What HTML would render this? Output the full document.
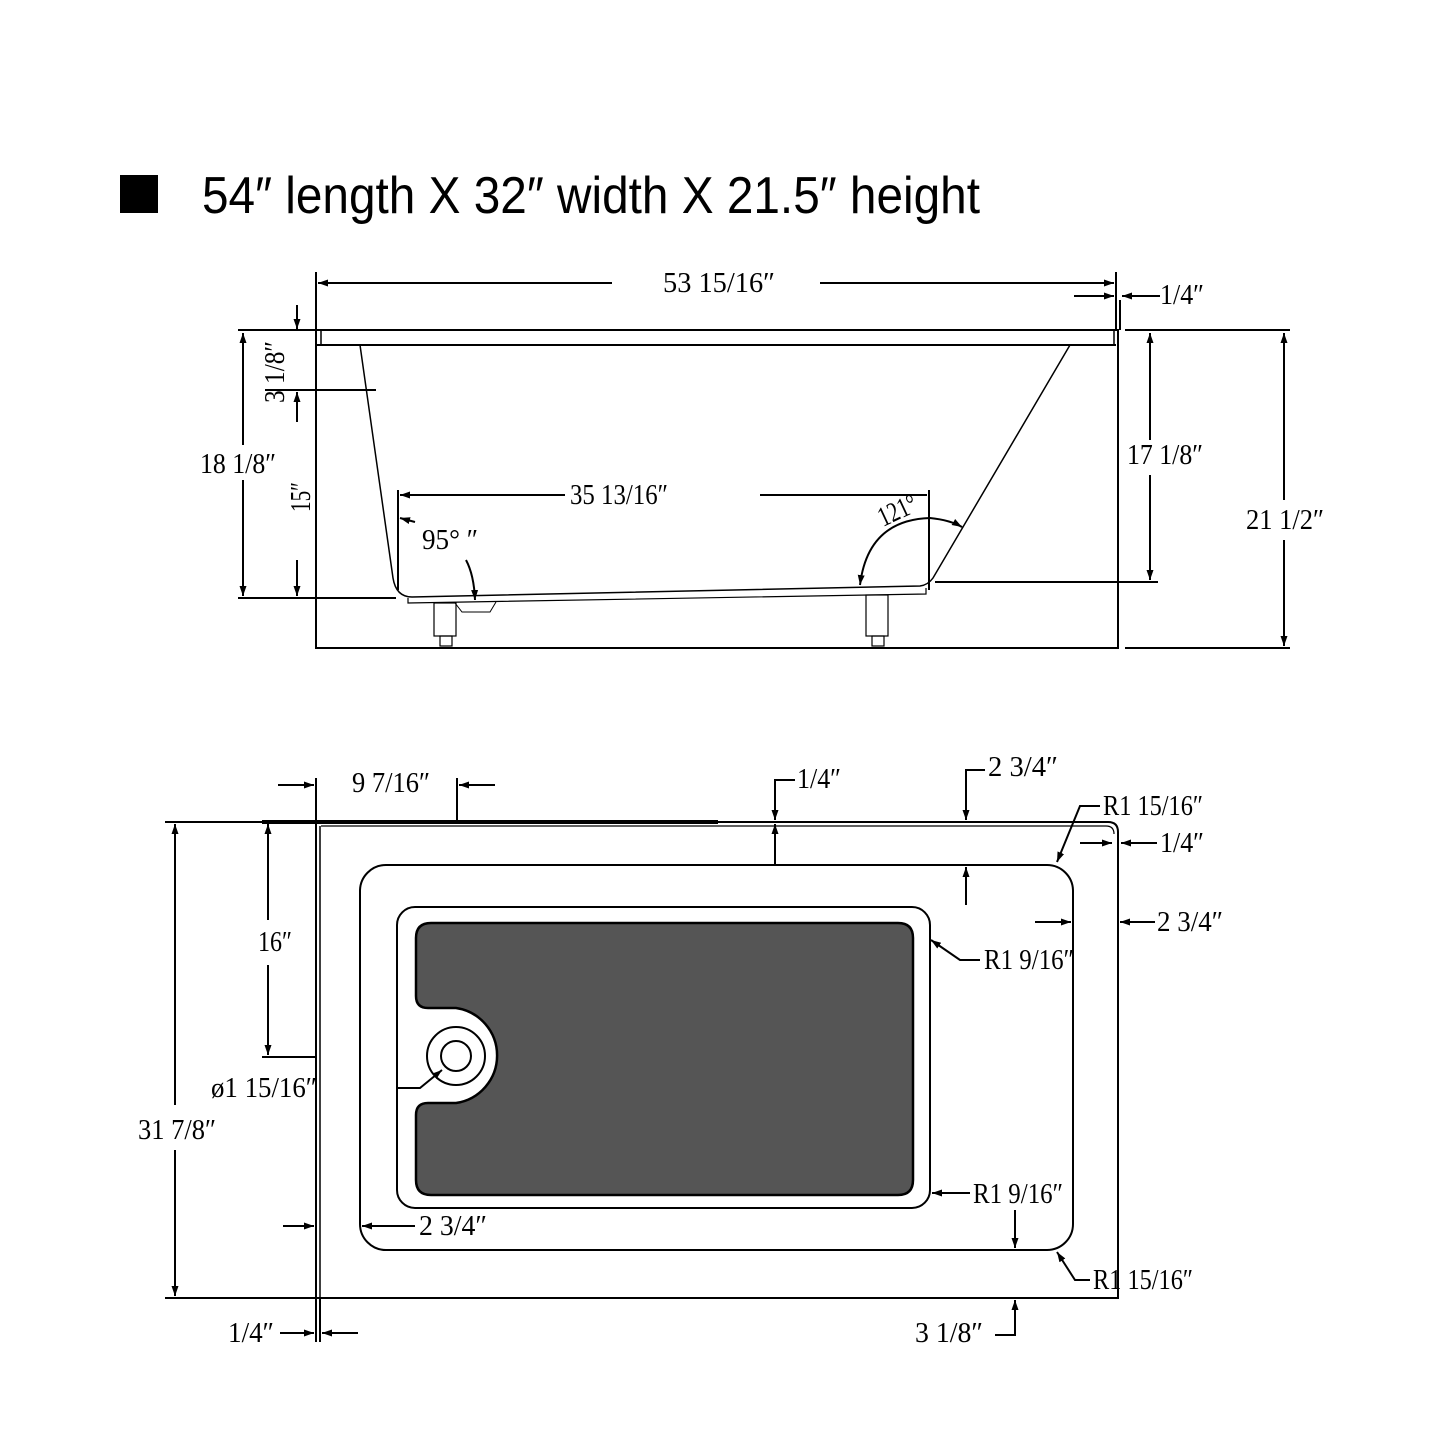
<!DOCTYPE html>
<html><head><meta charset="utf-8"><style>html,body{margin:0;padding:0;background:#fff}svg{display:block}</style></head><body>
<svg width="1445" height="1445" viewBox="0 0 1445 1445" xmlns="http://www.w3.org/2000/svg">
<defs>
<marker id="a" viewBox="0 0 10 10" refX="10" refY="5" markerWidth="10" markerHeight="10" markerUnits="userSpaceOnUse" orient="auto-start-reverse"><path d="M0,1.5L10,5L0,8.5z" fill="#000"/></marker>
</defs>
<rect x="120" y="175" width="38" height="38" fill="#000"/>
<text x="202" y="213" font-family="Liberation Sans, sans-serif" font-size="52" textLength="778" lengthAdjust="spacingAndGlyphs">54″ length X 32″ width X 21.5″ height</text>

<g fill="none" stroke="#000" stroke-width="2">
<rect x="316" y="330" width="802" height="318"/>
<line x1="316" y1="345" x2="1116" y2="345"/>
<line x1="321" y1="330" x2="321" y2="345" stroke-width="1.5"/>
<line x1="1114" y1="330" x2="1114" y2="345" stroke-width="1.5"/>
<path d="M360,345 L393,578 Q396,597 412,597 L920,586 Q928,585 933,578 L1070,345" stroke-width="1.5"/>
<path d="M408,598 L408,603 L926,594 L926,588" stroke-width="1.2"/>
<path d="M455,603 L462,612 L490,612 L496,602" stroke-width="1"/>
<rect x="434" y="603" width="22" height="33" stroke-width="1.2"/>
<rect x="440" y="636" width="12" height="10" stroke-width="1.2"/>
<rect x="866" y="595" width="22" height="41" stroke-width="1.2"/>
<rect x="872" y="636" width="12" height="10" stroke-width="1.2"/>
<line x1="316" y1="272" x2="316" y2="330"/>
<line x1="1116" y1="272" x2="1116" y2="330"/>
<line x1="1120" y1="300" x2="1120" y2="330"/>
<line x1="612" y1="283" x2="318" y2="283" marker-end="url(#a)"/>
<line x1="820" y1="283" x2="1114" y2="283" marker-end="url(#a)"/>
<line x1="1074" y1="296" x2="1114" y2="296" marker-end="url(#a)"/>
<line x1="1160" y1="296" x2="1122" y2="296" marker-end="url(#a)"/>
<line x1="238" y1="330" x2="316" y2="330"/>
<line x1="238" y1="598" x2="396" y2="598"/>
<line x1="243" y1="445" x2="243" y2="333" marker-end="url(#a)"/>
<line x1="243" y1="480" x2="243" y2="596" marker-end="url(#a)"/>
<line x1="297" y1="305" x2="297" y2="329" marker-end="url(#a)"/>
<line x1="265" y1="390" x2="376" y2="390"/>
<line x1="297" y1="422" x2="297" y2="392" marker-end="url(#a)"/>
<line x1="297" y1="560" x2="297" y2="596" marker-end="url(#a)"/>
<line x1="935" y1="582" x2="1158" y2="582"/>
<line x1="1150" y1="440" x2="1150" y2="333" marker-end="url(#a)"/>
<line x1="1150" y1="475" x2="1150" y2="580" marker-end="url(#a)"/>
<line x1="1125" y1="330" x2="1290" y2="330"/>
<line x1="1125" y1="648" x2="1290" y2="648"/>
<line x1="1284" y1="500" x2="1284" y2="333" marker-end="url(#a)"/>
<line x1="1284" y1="540" x2="1284" y2="646" marker-end="url(#a)"/>
<line x1="398" y1="490" x2="398" y2="590"/>
<line x1="929" y1="490" x2="929" y2="590"/>
<line x1="565" y1="495" x2="400" y2="495" marker-end="url(#a)"/>
<line x1="760" y1="495" x2="927" y2="495"/>
<line x1="415" y1="522" x2="400" y2="518" marker-end="url(#a)"/>
<path d="M466,560 Q474,575 475,600" marker-end="url(#a)"/>
<path d="M860,585 Q868,520 930,518 Q950,520 962,527" marker-end="url(#a)" marker-start="url(#a)"/>

<path d="M316,822 L1108,822 Q1118,822 1118,832 L1118,1298 L316,1298 Z"/>
<path d="M321,826 L1106,826 Q1114,826 1114,834" stroke-width="1.2"/>
<line x1="320" y1="826" x2="320" y2="1298" stroke-width="1.5"/>
<line x1="262" y1="822" x2="718" y2="822" stroke-width="4"/>
<rect x="360" y="865" width="713" height="385" rx="26"/>
<rect x="397" y="907" width="533" height="301" rx="18"/>
<path d="M431,923 L898,923 Q913,923 913,938 L913,1180 Q913,1195 898,1195 L431,1195 Q416,1195 416,1180 L416,1115 Q416,1103 428,1103 L456,1103 A48,48 0 0 0 456,1008 L428,1008 Q416,1008 416,996 L416,938 Q416,923 431,923 Z" fill="#555" stroke-width="2.5"/>
<circle cx="456" cy="1056" r="29" fill="#fff"/>
<circle cx="456" cy="1056" r="15" fill="#fff"/>
<line x1="316" y1="778" x2="316" y2="822"/>
<line x1="457" y1="778" x2="457" y2="822"/>
<line x1="278" y1="785" x2="314" y2="785" marker-end="url(#a)"/>
<line x1="495" y1="785" x2="459" y2="785" marker-end="url(#a)"/>
<path d="M795,780 L775,780 L775,820" marker-end="url(#a)"/>
<line x1="775" y1="865" x2="775" y2="824" marker-end="url(#a)"/>
<path d="M985,770 L966,770 L966,820" marker-end="url(#a)"/>
<line x1="966" y1="905" x2="966" y2="867" marker-end="url(#a)"/>
<path d="M1100,806 L1080,806 L1057,862" marker-end="url(#a)"/>
<line x1="1080" y1="843" x2="1112" y2="843" marker-end="url(#a)"/>
<line x1="1157" y1="843" x2="1121" y2="843" marker-end="url(#a)"/>
<line x1="1035" y1="922" x2="1071" y2="922" marker-end="url(#a)"/>
<line x1="1155" y1="922" x2="1120" y2="922" marker-end="url(#a)"/>
<path d="M980,960 L960,960 L931,940" marker-end="url(#a)"/>
<line x1="262" y1="1057" x2="316" y2="1057"/>
<line x1="268" y1="920" x2="268" y2="824" marker-end="url(#a)"/>
<line x1="268" y1="965" x2="268" y2="1055" marker-end="url(#a)"/>
<path d="M398,1088 L420,1088 L442,1070" marker-end="url(#a)"/>
<line x1="165" y1="822" x2="316" y2="822"/>
<line x1="165" y1="1298" x2="316" y2="1298"/>
<line x1="175" y1="1105" x2="175" y2="824" marker-end="url(#a)"/>
<line x1="175" y1="1150" x2="175" y2="1296" marker-end="url(#a)"/>
<line x1="283" y1="1226" x2="314" y2="1226" marker-end="url(#a)"/>
<line x1="415" y1="1226" x2="362" y2="1226" marker-end="url(#a)"/>
<line x1="970" y1="1193" x2="932" y2="1193" marker-end="url(#a)"/>
<line x1="1015" y1="1210" x2="1015" y2="1248" marker-end="url(#a)"/>
<path d="M995,1335 L1015,1335 L1015,1300" marker-end="url(#a)"/>
<path d="M1090,1280 L1075,1280 L1057,1252" marker-end="url(#a)"/>
<line x1="316" y1="1298" x2="316" y2="1342"/>
<line x1="320" y1="1298" x2="320" y2="1342"/>
<line x1="280" y1="1333" x2="314" y2="1333" marker-end="url(#a)"/>
<line x1="358" y1="1333" x2="322" y2="1333" marker-end="url(#a)"/>
</g>

<g font-family="Liberation Serif, serif" font-size="28" fill="#000">
<text x="663" y="292" textLength="112" lengthAdjust="spacingAndGlyphs">53 15/16″</text>
<text x="1160" y="304" textLength="44" lengthAdjust="spacingAndGlyphs">1/4″</text>
<text x="200" y="473" textLength="76" lengthAdjust="spacingAndGlyphs">18 1/8″</text>
<text transform="translate(284,403) rotate(-90)" textLength="62" lengthAdjust="spacingAndGlyphs">3 1/8″</text>
<text transform="translate(310,512) rotate(-90)" textLength="30" lengthAdjust="spacingAndGlyphs">15″</text>
<text x="1127" y="464" textLength="76" lengthAdjust="spacingAndGlyphs">17 1/8″</text>
<text x="1246" y="529" textLength="78" lengthAdjust="spacingAndGlyphs">21 1/2″</text>
<text x="570" y="504" textLength="98" lengthAdjust="spacingAndGlyphs">35 13/16″</text>
<text x="422" y="549" textLength="56" lengthAdjust="spacingAndGlyphs">95°  ″</text>
<text transform="translate(883,527) rotate(-25)" textLength="40" lengthAdjust="spacingAndGlyphs">121°</text>

<text x="352" y="792" textLength="78" lengthAdjust="spacingAndGlyphs">9 7/16″</text>
<text x="797" y="788" textLength="44" lengthAdjust="spacingAndGlyphs">1/4″</text>
<text x="988" y="776" textLength="70" lengthAdjust="spacingAndGlyphs">2 3/4″</text>
<text x="1103" y="815" textLength="100" lengthAdjust="spacingAndGlyphs">R1 15/16″</text>
<text x="1160" y="852" textLength="44" lengthAdjust="spacingAndGlyphs">1/4″</text>
<text x="1157" y="931" textLength="66" lengthAdjust="spacingAndGlyphs">2 3/4″</text>
<text x="984" y="969" textLength="90" lengthAdjust="spacingAndGlyphs">R1 9/16″</text>
<text x="258" y="951" textLength="34" lengthAdjust="spacingAndGlyphs">16″</text>
<text x="211" y="1097" textLength="106" lengthAdjust="spacingAndGlyphs">ø1 15/16″</text>
<text x="138" y="1139" textLength="78" lengthAdjust="spacingAndGlyphs">31 7/8″</text>
<text x="419" y="1235" textLength="68" lengthAdjust="spacingAndGlyphs">2 3/4″</text>
<text x="973" y="1203" textLength="90" lengthAdjust="spacingAndGlyphs">R1 9/16″</text>
<text x="1093" y="1289" textLength="100" lengthAdjust="spacingAndGlyphs">R1 15/16″</text>
<text x="915" y="1342" textLength="68" lengthAdjust="spacingAndGlyphs">3 1/8″</text>
<text x="228" y="1342" textLength="46" lengthAdjust="spacingAndGlyphs">1/4″</text>
</g>
</svg>
</body></html>
